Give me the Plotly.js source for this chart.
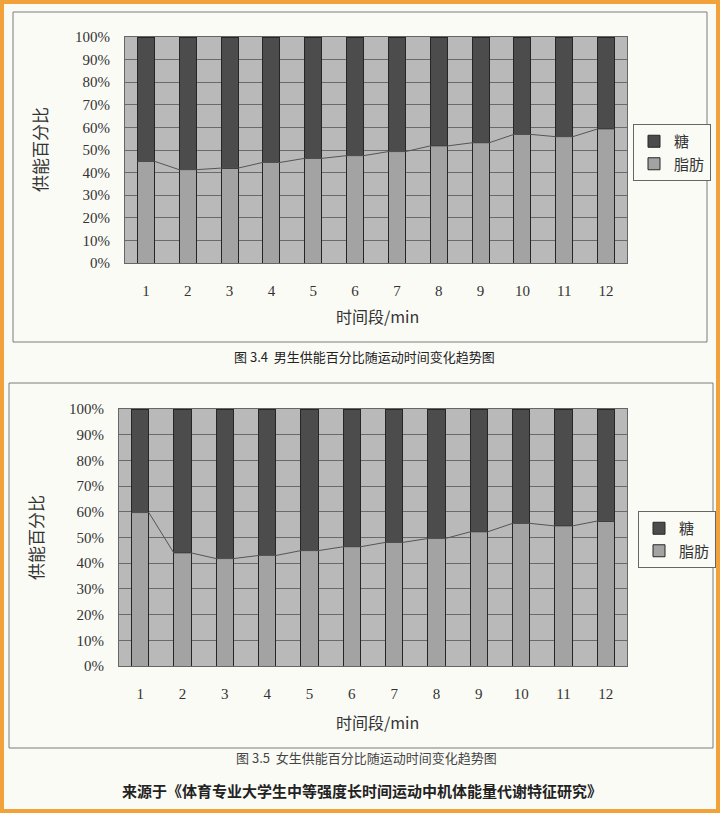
<!DOCTYPE html>
<html><head><meta charset="utf-8">
<script src="https://cdn.plot.ly/plotly-3.0.1.min.js"></script>
<style>html,body{margin:0;padding:0;background:#fbfbf6;}#c{width:720px;height:813px;}</style>
</head><body><div id="c"></div>
<script>
const periods = [1,2,3,4,5,6,7,8,9,10,11,12];
const periodLabels = ["1","2","3","4","5","6","7","8","9","10","11","12"];
const maleFat = [45, 41.3, 42, 44.5, 46.3, 47.5, 49.3, 51.8, 53.2, 56.9, 55.9, 59.3];
const femaleFat = [59.7, 44, 41.8, 43, 44.9, 46.4, 48.1, 49.6, 52.2, 55.5, 54.5, 56.4];
const yTicks = [0,10,20,30,40,50,60,70,80,90,100];
const yTickLabels = yTicks.map(v => v + "%");
const nameSugar = "糖", nameFat = "脂肪";

const W = 720, H = 813;
const px = x => x / W, py = y => 1 - y / H;
const BARGAP = 0.59, half = (1 - BARGAP) / 2;

const fatColor = "#a3a3a3", sugarColor = "#4c4c4c", outline = "#262626";
const serif = "Liberation Serif, Noto Sans CJK SC, serif";
const cjk = "Noto Sans CJK SC, sans-serif";

function traces(fat, xa, ya, legend) {
  const sugar = fat.map(v => 100 - v);
  const lx = [], ly = [];
  periods.forEach((p, i) => { lx.push(p - half, p + half); ly.push(fat[i], fat[i]); });
  return [
    {type: "bar", x: periods, y: fat, name: nameFat, xaxis: xa, yaxis: ya, legend: legend,
     marker: {color: fatColor, line: {color: outline, width: 1}}, hoverinfo: "skip"},
    {type: "bar", x: periods, y: sugar, name: nameSugar, xaxis: xa, yaxis: ya, legend: legend,
     marker: {color: sugarColor, line: {color: outline, width: 1}}, hoverinfo: "skip"},
    {type: "scatter", mode: "lines", x: lx, y: ly, xaxis: xa, yaxis: ya, showlegend: false,
     line: {color: "#555", width: 1}, hoverinfo: "skip"}
  ];
}

const data = [].concat(traces(maleFat, "x", "y", "legend"), traces(femaleFat, "x2", "y2", "legend2"));

function xax(domain, anchor) {
  return {domain: domain, anchor: anchor, range: [0.5, 12.5], tickvals: periods, ticktext: periodLabels,
    ticks: "outside", ticklen: 14, tickcolor: "rgba(0,0,0,0)", showgrid: false, zeroline: false,
    showline: true, mirror: true, linecolor: "#666", linewidth: 1,
    tickfont: {family: serif, size: 15, color: "#333"}, fixedrange: true};
}
function yax(domain, anchor) {
  return {domain: domain, anchor: anchor, range: [0, 100], tickvals: yTicks, ticktext: yTickLabels,
    ticks: "outside", ticklen: 11, tickcolor: "rgba(0,0,0,0)", showgrid: true, gridcolor: "#6a6a6a", gridwidth: 1,
    zeroline: false, showline: true, mirror: true, linecolor: "#666", linewidth: 1,
    tickfont: {family: serif, size: 15, color: "#333"}, fixedrange: true};
}

function note(x, y, text, size, color, angle) {
  return {xref: "paper", yref: "paper", x: px(x), y: py(y), xanchor: "center", yanchor: "middle",
    text: text, textangle: angle || 0, showarrow: false, font: {family: cjk, size: size, color: color}};
}

const layout = {
  width: W, height: H, margin: {l: 0, r: 0, t: 0, b: 0},
  paper_bgcolor: "#fbfbf6", plot_bgcolor: "#b9b9b9",
  barmode: "stack", bargap: BARGAP, showlegend: true,
  xaxis: xax([px(125), px(627)], "y"),
  yaxis: yax([py(263), py(37)], "x"),
  xaxis2: xax([px(119), px(627)], "y2"),
  yaxis2: yax([py(666), py(409)], "x2"),
  legend: {x: px(633), y: py(124), xanchor: "left", yanchor: "top", traceorder: "reversed",
    bgcolor: "#fbfbf6", bordercolor: "#666", borderwidth: 1, itemwidth: 30,
    font: {family: cjk, size: 15, color: "#333"}, tracegroupgap: 0},
  legend2: {x: px(638), y: py(511), xanchor: "left", yanchor: "top", traceorder: "reversed",
    bgcolor: "#fbfbf6", bordercolor: "#666", borderwidth: 1, itemwidth: 30,
    font: {family: cjk, size: 15, color: "#333"}, tracegroupgap: 0},
  shapes: [
    {type: "rect", xref: "paper", yref: "paper", x0: px(2), x1: px(718), y0: py(811), y1: py(2),
     line: {color: "#f2a23a", width: 4}, layer: "below"},
    {type: "rect", xref: "paper", yref: "paper", x0: px(13), x1: px(707), y0: py(342), y1: py(12),
     line: {color: "#7a7a7a", width: 1}, layer: "below"},
    {type: "rect", xref: "paper", yref: "paper", x0: px(9), x1: px(713), y0: py(748), y1: py(383),
     line: {color: "#7a7a7a", width: 1}, layer: "below"}
  ],
  annotations: [
    note(40, 150, "供能百分比", 17, "#333", -90),
    note(377, 316, "时间段/min", 16, "#333"),
    note(364, 356, "图 3.4  男生供能百分比随运动时间变化趋势图", 13, "#222"),
    note(35, 538, "供能百分比", 17, "#333", -90),
    note(377, 722, "时间段/min", 16, "#333"),
    note(366, 757, "图 3.5  女生供能百分比随运动时间变化趋势图", 13, "#444"),
    note(362, 790, "<b>来源于《体育专业大学生中等强度长时间运动中机体能量代谢特征研究》</b>", 15, "#222")
  ]
};

Plotly.newPlot("c", data, layout, {displayModeBar: false, staticPlot: true});
</script></body></html>
